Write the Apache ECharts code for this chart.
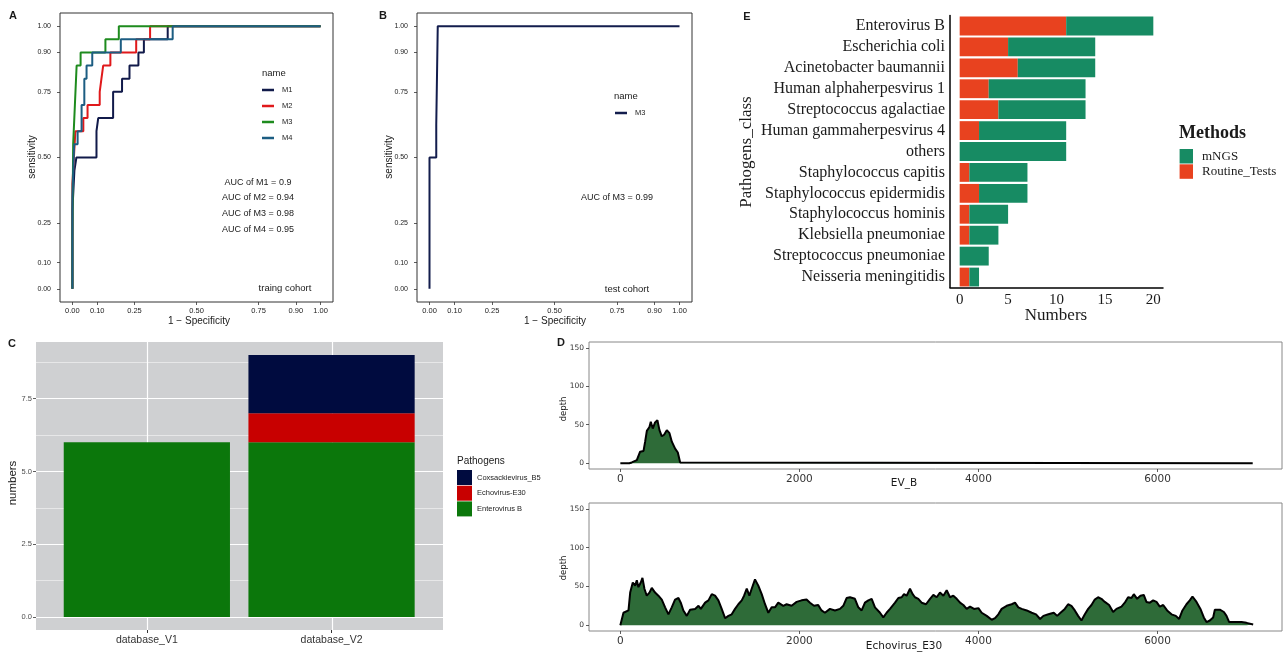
<!DOCTYPE html>
<html><head><meta charset="utf-8">
<script src="https://cdn.jsdelivr.net/npm/echarts@6/dist/echarts.min.js"></script>
<style>html,body{margin:0;padding:0;background:#fff}#c{width:1285px;height:652px}</style>
</head><body><div id="c"></div>
<script>
// ---------- DATA ----------
const rocTicks = [0, 0.1, 0.25, 0.5, 0.75, 0.9, 1];
const rocM1 = [[0,0],[0,0.3],[0.008,0.3],[0.008,0.45],[0.016,0.45],[0.016,0.5],[0.097,0.5],[0.097,0.6],[0.104,0.6],[0.104,0.65],[0.164,0.65],[0.164,0.75],[0.2,0.75],[0.2,0.8],[0.23,0.8],[0.23,0.85],[0.266,0.85],[0.266,0.9],[0.288,0.9],[0.288,0.95],[0.384,0.95],[0.384,1],[1,1]];
const rocM2 = [[0,0],[0,0.4],[0.006,0.4],[0.006,0.5],[0.012,0.5],[0.012,0.6],[0.044,0.6],[0.044,0.65],[0.061,0.65],[0.061,0.7],[0.11,0.7],[0.11,0.75],[0.117,0.75],[0.117,0.8],[0.124,0.8],[0.124,0.85],[0.153,0.85],[0.153,0.9],[0.257,0.9],[0.257,0.95],[0.313,0.95],[0.313,1],[1,1]];
const rocM3 = [[0,0],[0,0.2],[0.003,0.2],[0.003,0.55],[0.01,0.55],[0.01,0.7],[0.017,0.7],[0.017,0.85],[0.033,0.85],[0.033,0.9],[0.133,0.9],[0.133,0.95],[0.187,0.95],[0.187,1],[1,1]];
const rocM4 = [[0,0],[0,0.35],[0.007,0.35],[0.007,0.55],[0.021,0.55],[0.021,0.6],[0.037,0.6],[0.037,0.7],[0.048,0.7],[0.048,0.8],[0.057,0.8],[0.057,0.85],[0.08,0.85],[0.08,0.9],[0.195,0.9],[0.195,0.95],[0.404,0.95],[0.404,1],[1,1]];
const rocTestM3 = [[0,0],[0,0.5],[0.027,0.5],[0.027,0.625],[0.033,0.625],[0.033,1],[1,1]];
const aucTrain = ['AUC of M1 = 0.9','AUC of M2 = 0.94','AUC of M3 = 0.98','AUC of M4 = 0.95'];

const dbCategories = ['database_V1','database_V2'];
const enterovirusB = [6, 6];
const echovirusE30 = [0, 1];
const coxsackievirusB5 = [0, 2];
const dbTicks = [0, 2.5, 5, 7.5];
const dbMinorTicks = [1.25, 3.75, 6.25, 8.75];

const posTicks = [0, 2000, 4000, 6000];
const depthTicks = [0, 50, 100, 150];
const evbCoverage = [[0,0],[100,0],[128,1],[184,4],[221,15],[259,16],[277,28],[296,42],[325,47],[340,54],[362,45],[388,53],[414,56],[437,43],[463,35],[489,37],[519,43],[549,39],[575,28],[612,19],[642,14],[668,1],[675,0],[7063,0]];
const e30Coverage = [[0,0],[9,0],[35,16],[91,19],[110,42],[139,55],[165,51],[184,58],[202,49],[228,55],[247,61],[269,47],[295,38],[325,42],[351,48],[388,42],[425,38],[463,33],[500,23],[537,14],[574,23],[611,33],[649,35],[675,29],[704,19],[742,12],[779,20],[835,21],[873,25],[899,21],[947,29],[984,32],[1021,40],[1058,38],[1095,32],[1132,21],[1170,9],[1207,12],[1244,14],[1281,21],[1318,27],[1356,32],[1382,38],[1412,47],[1441,38],[1467,47],[1504,59],[1541,51],[1579,40],[1616,27],[1653,16],[1690,23],[1727,23],[1764,29],[1820,25],[1857,27],[1913,25],[1969,30],[2024,32],[2080,33],[2118,29],[2163,25],[2210,26],[2247,19],[2285,16],[2341,21],[2397,19],[2453,21],[2490,25],[2527,35],[2565,36],[2620,34],[2658,23],[2695,19],[2732,29],[2770,32],[2807,34],[2844,23],[2900,16],[2937,10],[2974,16],[3012,21],[3068,29],[3105,35],[3142,36],[3168,40],[3198,38],[3235,47],[3265,40],[3291,36],[3328,34],[3365,29],[3414,27],[3459,34],[3496,39],[3533,36],[3570,42],[3608,38],[3645,45],[3682,36],[3719,38],[3757,34],[3794,29],[3831,26],[3868,21],[3906,24],[3950,21],[3999,22],[4036,16],[4092,12],[4148,7],[4185,9],[4222,14],[4259,21],[4315,25],[4371,27],[4408,29],[4445,23],[4483,21],[4539,19],[4595,16],[4643,14],[4688,8],[4725,12],[4781,14],[4841,16],[4879,12],[4916,16],[4964,21],[5001,27],[5038,25],[5076,19],[5113,12],[5150,6],[5188,14],[5225,21],[5262,26],[5299,33],[5336,36],[5373,34],[5411,30],[5459,26],[5504,17],[5541,21],[5597,24],[5634,29],[5671,36],[5709,35],[5735,40],[5772,34],[5809,38],[5846,39],[5876,30],[5914,29],[5951,32],[5988,30],[6025,24],[6063,26],[6107,19],[6156,14],[6204,12],[6241,8],[6278,19],[6323,27],[6360,32],[6390,37],[6435,30],[6479,21],[6517,10],[6547,4],[6584,6],[6621,10],[6640,20],[6696,20],[6741,17],[6770,12],[6800,4],[6882,4],[6938,4],[6994,3],[7068,1]];

const pathogens = ['Enterovirus B','Escherichia coli','Acinetobacter baumannii','Human alphaherpesvirus 1','Streptococcus agalactiae','Human gammaherpesvirus 4','others','Staphylococcus capitis','Staphylococcus epidermidis','Staphylococcus hominis','Klebsiella pneumoniae','Streptococcus pneumoniae','Neisseria meningitidis'];
const routineTests = [11, 5, 6, 3, 4, 2, 0, 1, 2, 1, 1, 0, 1];
const mngs = [9, 9, 8, 10, 9, 9, 11, 6, 5, 4, 3, 3, 1];
const numberTicks = [0, 5, 10, 15, 20];

// ---------- STYLE ----------
const SANS = 'Liberation Sans, Arial, sans-serif';
const SERIF = 'Liberation Serif, Times New Roman, serif';
const DV = 'DejaVu Sans, sans-serif';

function T(text, x, y, o) {
  o = o || {};
  return {type:'text', x:x, y:y, rotation:o.rot ? Math.PI/2 : 0, silent:true,
    style:{text:text, fontSize:o.size||10, fontFamily:o.font||SANS, fontWeight:o.bold?'bold':'normal',
      fill:o.color||'#1a1a1a', align:o.align||'center', verticalAlign:'middle'}};
}
function valAxis(gridIndex, min, max, ticks, fmt, o) {
  o = o || {};
  return {type:'value', gridIndex:gridIndex, min:min, max:max,
    axisLine:{show:false, onZero:false}, splitLine:{show:false},
    axisTick:{show:true, length:3, customValues:ticks, lineStyle:{color:'#333', width:0.8}},
    axisLabel:{customValues:ticks, formatter:fmt, fontSize:o.size||7.5, fontFamily:o.font||SANS, color:o.color||'#222', margin:o.margin||5}};
}
const f2 = v => v.toFixed(2);
const plain = v => String(v);

const option = {
  animation:false,
  backgroundColor:'#fff',
  grid:[
    {left:60, top:13, width:273, height:289, show:true, borderColor:'#333', borderWidth:1, backgroundColor:'transparent'},
    {left:417, top:13, width:275, height:289, show:true, borderColor:'#333', borderWidth:1, backgroundColor:'transparent'},
    {left:36, top:342, width:407, height:288, show:true, backgroundColor:'#cfd0d2', borderWidth:0},
    {left:589, top:342, width:693, height:127, show:true, borderColor:'#888', borderWidth:1, backgroundColor:'transparent'},
    {left:589, top:503, width:693, height:128, show:true, borderColor:'#888', borderWidth:1, backgroundColor:'transparent'},
    {left:950, top:15.5, width:213, height:272},
    {left:54.5, top:342, width:369.4, height:288}
  ],
  xAxis:[
    valAxis(0, -0.05, 1.05, rocTicks, f2, {margin:5}),
    valAxis(1, -0.05, 1.05, rocTicks, f2, {margin:5}),
    {type:'value', gridIndex:2, min:0.4, max:2.6, axisLine:{show:false, onZero:false},
      axisTick:{show:false, customValues:dbCategories.map((c,i)=>i+1)}, axisLabel:{show:false},
      splitLine:{show:true, lineStyle:{color:'#fff', width:1.2}}},
    valAxis(3, -350, 7390, posTicks, plain, {size:10.5, font:DV, color:'#333', margin:5}),
    valAxis(4, -350, 7390, posTicks, plain, {size:10.5, font:DV, color:'#333', margin:5}),
    {type:'value', gridIndex:5, min:-1, max:21,
      axisLine:{show:true, onZero:false, lineStyle:{color:'#000', width:1.5}}, splitLine:{show:false},
      axisTick:{length:4, customValues:numberTicks, lineStyle:{color:'#000', width:1}},
      axisLabel:{customValues:numberTicks, fontSize:15, fontFamily:SERIF, color:'#1a1a1a', margin:5}},
    {type:'category', gridIndex:6, data:dbCategories, axisLine:{show:false, onZero:false},
      axisTick:{show:true, alignWithLabel:true, length:3, lineStyle:{color:'#333'}},
      axisLabel:{fontSize:10.5, fontFamily:SANS, color:'#333', margin:5}, splitLine:{show:false}}
  ],
  yAxis:[
    valAxis(0, -0.05, 1.05, rocTicks, f2, {margin:9, size:7}),
    valAxis(1, -0.05, 1.05, rocTicks, f2, {margin:9, size:7}),
    Object.assign(valAxis(2, -0.45, 9.45, dbTicks, v=>v.toFixed(1), {color:'#4d4d4d', margin:4}),
      {splitLine:{show:true, lineStyle:{color:'#fff', width:1.2}}}),
    valAxis(3, -7.5, 157.5, depthTicks, plain, {font:DV, size:7.5, color:'#333', margin:5}),
    valAxis(4, -7.5, 157.5, depthTicks, plain, {font:DV, size:7.5, color:'#333', margin:5}),
    {type:'category', gridIndex:5, data:pathogens, inverse:true,
      axisLine:{show:true, onZero:false, lineStyle:{color:'#000', width:1.5}},
      axisTick:{alignWithLabel:true, length:4, lineStyle:{color:'#000'}},
      axisLabel:{fontSize:16, fontFamily:SERIF, color:'#1a1a1a', margin:5}},
    {type:'value', gridIndex:2, min:-0.45, max:9.45, position:'left', axisLine:{show:false, onZero:false},
      axisTick:{show:false, customValues:dbMinorTicks}, axisLabel:{show:false},
      splitLine:{show:true, lineStyle:{color:'#fff', width:0.5}}},
    {type:'value', gridIndex:6, min:-0.45, max:9.45, show:false}
  ],
  legend:[
    {data:['M1','M2','M3','M4'], orient:'vertical', left:262, top:86, icon:'rect', itemWidth:12, itemHeight:2.5, itemGap:8, padding:0, selectedMode:false,
      textStyle:{fontSize:7.5, fontFamily:SANS, color:'#222', padding:[0,0,0,3]}},
    {data:['M3 (test)'], formatter:'M3', orient:'vertical', left:615, top:109, icon:'rect', itemWidth:12, itemHeight:2.5, padding:0, selectedMode:false,
      textStyle:{fontSize:7.5, fontFamily:SANS, color:'#222', padding:[0,0,0,3]}},
    {data:['Coxsackievirus_B5','Echovirus-E30','Enterovirus B'], orient:'vertical', left:457, top:470, icon:'rect', itemWidth:15, itemHeight:15, itemGap:0.7, padding:0, selectedMode:false,
      textStyle:{fontSize:7.5, fontFamily:SANS, color:'#222'}},
    {data:['mNGS','Routine_Tests'], orient:'vertical', left:1179.6, top:149, icon:'rect', itemWidth:13.4, itemHeight:14.5, itemGap:0.8, padding:0, selectedMode:false,
      textStyle:{fontSize:13, fontFamily:SERIF, color:'#1a1a1a', padding:[0,0,0,4]}}
  ],
  series:[
    {type:'line', name:'M1', xAxisIndex:0, yAxisIndex:0, data:rocM1, symbol:'none', color:'#111a4a', lineStyle:{width:2}},
    {type:'line', name:'M2', xAxisIndex:0, yAxisIndex:0, data:rocM2, symbol:'none', color:'#e0191b', lineStyle:{width:2}},
    {type:'line', name:'M3', xAxisIndex:0, yAxisIndex:0, data:rocM3, symbol:'none', color:'#1e8b1e', lineStyle:{width:2}},
    {type:'line', name:'M4', xAxisIndex:0, yAxisIndex:0, data:rocM4, symbol:'none', color:'#1c5d82', lineStyle:{width:2}},
    {type:'line', name:'M3 (test)', xAxisIndex:1, yAxisIndex:1, data:rocTestM3, symbol:'none', color:'#131d4d', lineStyle:{width:2}},
    {type:'bar', name:'Enterovirus B', xAxisIndex:6, yAxisIndex:7, stack:'c', barWidth:'90%', data:enterovirusB, color:'#0b770b'},
    {type:'bar', name:'Echovirus-E30', xAxisIndex:6, yAxisIndex:7, stack:'c', barWidth:'90%', data:echovirusE30, color:'#c80000'},
    {type:'bar', name:'Coxsackievirus_B5', xAxisIndex:6, yAxisIndex:7, stack:'c', barWidth:'90%', data:coxsackievirusB5, color:'#000b3f'},
    {type:'line', name:'EV_B', xAxisIndex:3, yAxisIndex:3, data:evbCoverage, symbol:'none', lineStyle:{color:'#000', width:2}, areaStyle:{color:'#2e6b38', opacity:1}, color:'#000'},
    {type:'line', name:'Echovirus_E30', xAxisIndex:4, yAxisIndex:4, data:e30Coverage, symbol:'none', lineStyle:{color:'#000', width:2}, areaStyle:{color:'#2e6b38', opacity:1}, color:'#000'},
    {type:'bar', name:'Routine_Tests', xAxisIndex:5, yAxisIndex:5, stack:'e', barWidth:'90%', data:routineTests, color:'#e8421f'},
    {type:'bar', name:'mNGS', xAxisIndex:5, yAxisIndex:5, stack:'e', barWidth:'90%', data:mngs, color:'#178b63'}
  ],
  graphic:{elements:[
    T('A', 13, 16, {size:11, bold:true}),
    T('1 \u2212 Specificity', 199, 321, {size:10}),
    T('sensitivity', 32, 157, {size:10, rot:true}),
    T('name', 262, 73, {size:9.5, align:'left'}),
    T(aucTrain[0], 258, 183, {size:9}),
    T(aucTrain[1], 258, 198, {size:9}),
    T(aucTrain[2], 258, 214, {size:9}),
    T(aucTrain[3], 258, 230, {size:9}),
    T('traing cohort', 285, 288, {size:9.5}),
    T('B', 383, 16, {size:11, bold:true}),
    T('1 \u2212 Specificity', 555, 321, {size:10}),
    T('sensitivity', 389, 157, {size:10, rot:true}),
    T('name', 614, 96, {size:9.5, align:'left'}),
    T('AUC of M3 = 0.99', 617, 198, {size:9}),
    T('test cohort', 627, 289, {size:9.5}),
    T('C', 12, 344, {size:11, bold:true}),
    T('numbers', 12.5, 483, {size:11.5, rot:true}),
    T('Pathogens', 457, 461, {size:10, align:'left'}),
    T('D', 561, 343, {size:11, bold:true}),
    T('depth', 563.5, 409, {size:8.5, rot:true, font:DV}),
    T('EV_B', 904, 483, {size:10.5, font:DV}),
    T('depth', 563.5, 568, {size:8.5, rot:true, font:DV}),
    T('Echovirus_E30', 904, 646, {size:10.5, font:DV}),
    T('E', 747, 17, {size:11, bold:true}),
    T('Pathogens_class', 747, 152, {size:17, rot:true, font:SERIF}),
    T('Numbers', 1056, 316, {size:17, font:SERIF}),
    T('Methods', 1179, 133, {size:18, bold:true, font:SERIF, align:'left'})
  ]}
};
const chart = echarts.init(document.getElementById('c'));
chart.setOption(option);
</script>
</body></html>
